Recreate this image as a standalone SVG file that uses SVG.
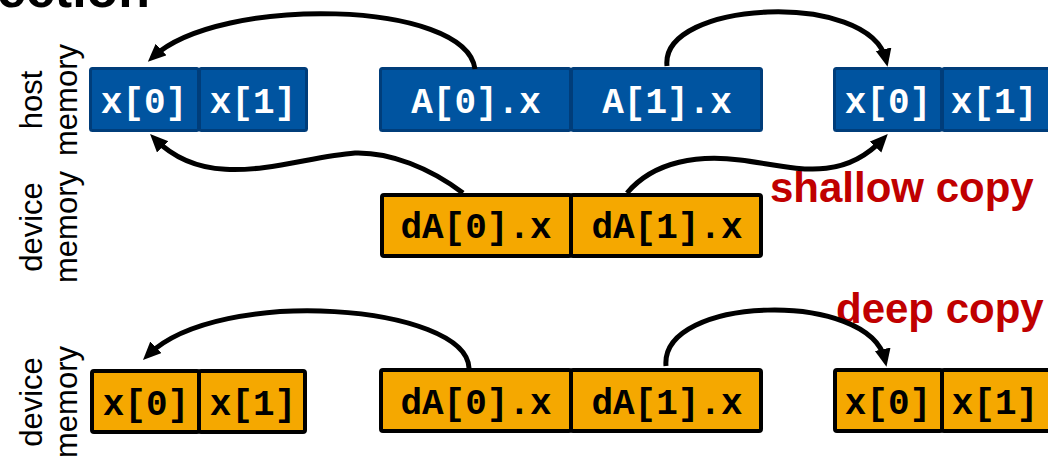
<svg xmlns="http://www.w3.org/2000/svg" width="1048" height="461" viewBox="0 0 1048 461">
<style>
  .host { fill: #0054A0; stroke: #003D7A; stroke-width: 3; }
  .dev { fill: #F5A800; stroke: #000; stroke-width: 4; }
  .ht { font-family: "Liberation Mono", "Courier New", monospace; font-weight: bold; font-size: 36px; fill: #fff; text-anchor: middle; }
  .dt { font-family: "Liberation Mono", "Courier New", monospace; font-weight: bold; font-size: 36px; fill: #000; text-anchor: middle; }
  .side { font-family: "Liberation Sans", Arial, sans-serif; font-size: 31px; fill: #000; text-anchor: middle; }
  .lbl { font-family: "Liberation Sans", Arial, sans-serif; font-weight: bold; font-size: 42px; fill: #C00000; }
  .conn { fill: none; stroke: #000; stroke-width: 5; }
</style>
<defs>
  <marker id="ah" markerUnits="userSpaceOnUse" markerWidth="20" markerHeight="18" refX="11" refY="8" orient="auto">
    <path d="M0,0 L18,8 L0,16 z" fill="#000"/>
  </marker>
</defs>

<text x="-3" y="7" font-family="Liberation Sans, Arial, sans-serif" font-weight="bold" font-size="52" fill="#000">ection</text>

<g id="label-host">
  <text class="side" transform="translate(42,100) rotate(-90)">host</text>
  <text class="side" transform="translate(77,100) rotate(-90)">memory</text>
</g>
<g id="label-device-top">
  <text class="side" transform="translate(42,227) rotate(-90)">device</text>
  <text class="side" transform="translate(77,227) rotate(-90)">memory</text>
</g>
<g id="label-device-bottom">
  <text class="side" transform="translate(42,402) rotate(-90)">device</text>
  <text class="side" transform="translate(77,402) rotate(-90)">memory</text>
</g>

<g id="host-x">
  <rect class="host" x="90.5" y="68.5" width="108" height="62" rx="2"/>
  <rect class="host" x="199.5" y="68.5" width="107" height="62" rx="2"/>
  <text class="ht" x="144" y="113">x[0]</text>
  <text class="ht" x="253" y="113">x[1]</text>
</g>
<g id="host-A">
  <rect class="host" x="380.5" y="68.5" width="190" height="62" rx="2"/>
  <rect class="host" x="571.5" y="68.5" width="190" height="62" rx="2"/>
  <text class="ht" x="476" y="113">A[0].x</text>
  <text class="ht" x="667" y="113">A[1].x</text>
</g>
<g id="host-x-copy">
  <rect class="host" x="834.5" y="68.5" width="107" height="62" rx="2"/>
  <rect class="host" x="942.5" y="68.5" width="115" height="62" rx="2"/>
  <text class="ht" x="888" y="113">x[0]</text>
  <text class="ht" x="994" y="113">x[1]</text>
</g>
<g id="dev-dA-shallow">
  <rect class="dev" x="382" y="195" width="189" height="61" rx="2"/>
  <rect class="dev" x="571" y="195" width="190" height="61" rx="2"/>
  <text class="dt" x="476" y="238">dA[0].x</text>
  <text class="dt" x="667" y="238">dA[1].x</text>
</g>

<g id="dev-x">
  <rect class="dev" x="92" y="371" width="107" height="61" rx="2"/>
  <rect class="dev" x="199" y="371" width="106" height="61" rx="2"/>
  <text class="dt" x="146" y="415">x[0]</text>
  <text class="dt" x="253" y="415">x[1]</text>
</g>
<g id="dev-dA-deep">
  <rect class="dev" x="381" y="370" width="190" height="61" rx="2"/>
  <rect class="dev" x="571" y="370" width="190" height="61" rx="2"/>
  <text class="dt" x="476" y="414">dA[0].x</text>
  <text class="dt" x="667" y="414">dA[1].x</text>
</g>
<g id="dev-x-copy">
  <rect class="dev" x="835" y="370" width="107" height="61" rx="2"/>
  <rect class="dev" x="942" y="370" width="120" height="61" rx="2"/>
  <text class="dt" x="888" y="414">x[0]</text>
  <text class="dt" x="995" y="414">x[1]</text>
</g>

<g id="label-shallow"><text class="lbl" x="770" y="202">shallow copy</text></g>
<g id="label-deep"><text class="lbl" x="836" y="323">deep copy</text></g>

<g id="connectors">
  <path class="conn" marker-end="url(#ah)" d="M475,69 C466,0 220,-5 153,57"/>
  <path class="conn" marker-end="url(#ah)" d="M667,66 C660,0 870,-10 886,60"/>
  <path class="conn" marker-end="url(#ah)" d="M463,193 C430,168 390,152 355,153 C290,158 210,195 155,139"/>
  <path class="conn" marker-end="url(#ah)" d="M627,193 C655,160 700,155 740,160 C790,166 840,185 883,139"/>
  <path class="conn" marker-end="url(#ah)" d="M469,368 C466,305 220,285 148,355"/>
  <path class="conn" marker-end="url(#ah)" d="M666,366 C660,295 870,290 885,360"/>
</g>
</svg>
